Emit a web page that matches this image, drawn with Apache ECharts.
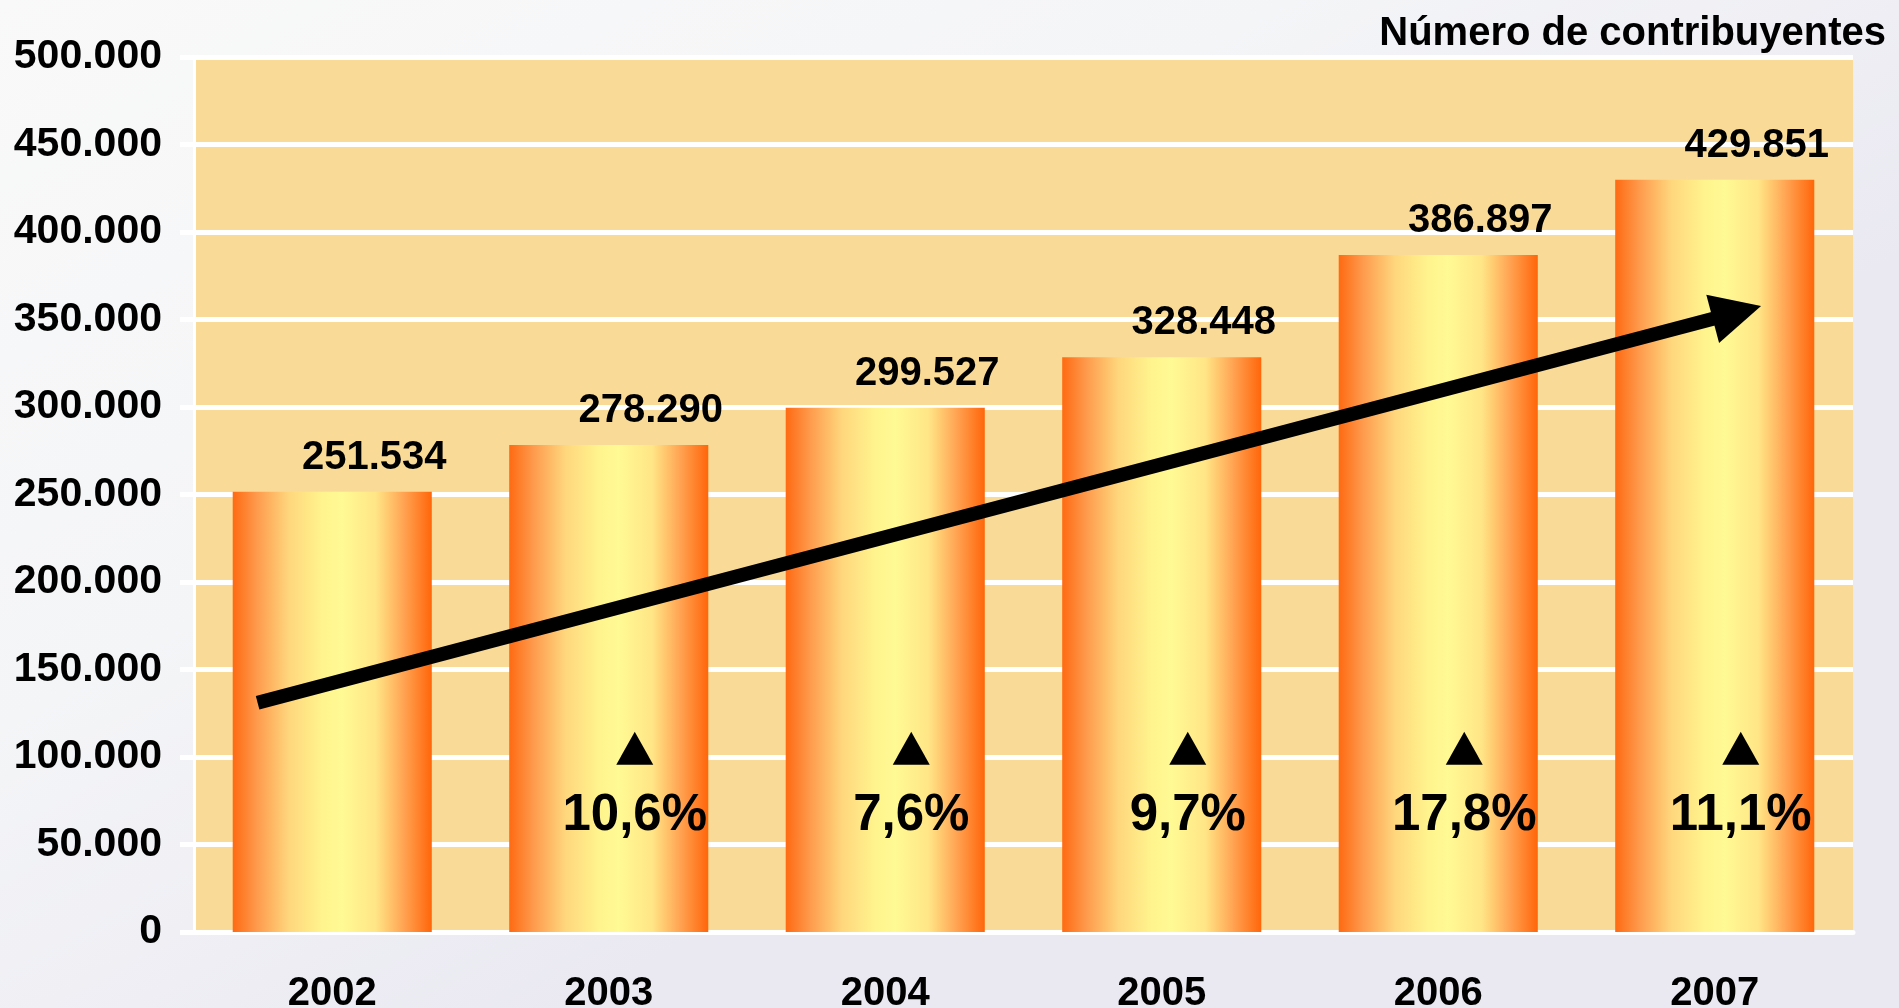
<!DOCTYPE html>
<html>
<head>
<meta charset="utf-8">
<script src="https://cdn.jsdelivr.net/npm/echarts@6/dist/echarts.min.js"></script>
<style>
  html, body { margin: 0; padding: 0; }
  #chart { width: 1899px; height: 1008px; }
</style>
</head>
<body>
<div id="chart"></div>
<script>
// data
const years = ['2002', '2003', '2004', '2005', '2006', '2007'];
const contribuyentes = [251534, 278290, 299527, 328448, 386897, 429851];
const growthPct = [null, 10.6, 7.6, 9.7, 17.8, 11.1];
const yMin = 0, yMax = 500000, yStep = 50000;
// trend arrow (annotation), in axis units: x as category index, y as value
const trendX = [-0.27, 5.08];
const trendY = [131000, 354000];
const growthMarkLevel = 105000;

const FONT = '"Liberation Sans", Arial, sans-serif';
const fmtThousands = (v) => String(v).replace(/\B(?=(\d{3})+(?!\d))/g, '.');
const fmtPct = (v) => v.toFixed(1).replace('.', ',') + '%';

const barGradient = {
  type: 'linear', x: 0, y: 0, x2: 1, y2: 0,
  colorStops: [
    { offset: 0, color: '#FF6A12' },
    { offset: 0.12, color: '#FF9A4C' },
    { offset: 0.28, color: '#FFD67C' },
    { offset: 0.45, color: '#FFF48E' },
    { offset: 0.55, color: '#FFFA94' },
    { offset: 0.72, color: '#FFE586' },
    { offset: 0.86, color: '#FFA352' },
    { offset: 1, color: '#FF660A' }
  ]
};

const chart = echarts.init(document.getElementById('chart'));

chart.setOption({
  animation: false,
  backgroundColor: {
    type: 'linear', x: 0, y: 0, x2: 0.3, y2: 1,
    colorStops: [
      { offset: 0, color: '#F9F9F9' },
      { offset: 0.55, color: '#F4F5F7' },
      { offset: 1, color: '#EAE9F2' }
    ]
  },
  textStyle: { fontFamily: FONT },
  title: {
    text: 'Número de contribuyentes',
    right: 8,
    top: 9,
    textStyle: { fontFamily: FONT, fontSize: 40, fontWeight: 'bold', color: '#000' }
  },
  grid: {
    left: 194, right: 46, top: 57, bottom: 76,
    outerBoundsMode: 'none',
    containLabel: false,
    show: true, backgroundColor: '#F9DB97', borderWidth: 0
  },
  xAxis: [
    {
      type: 'category',
      data: years,
      axisLine: { lineStyle: { color: '#FFFFFF', width: 5 } },
      axisTick: { show: false },
      axisLabel: { color: '#000', fontFamily: FONT, fontSize: 40, fontWeight: 'bold', margin: 42 }
    },
    { type: 'value', min: -0.5, max: 5.5, show: false }
  ],
  yAxis: {
    type: 'value',
    min: yMin, max: yMax, interval: yStep,
    axisLine: { show: true, onZero: false, lineStyle: { color: '#FFFFFF', width: 3 } },
    axisTick: { show: true, length: 14, lineStyle: { color: '#FFFFFF', width: 5 } },
    splitLine: { lineStyle: { color: '#FFFFFF', width: 5 } },
    axisLabel: {
      color: '#000', fontFamily: FONT, fontSize: 41, fontWeight: 'bold', margin: 32,
      formatter: (v) => fmtThousands(v)
    }
  },
  series: [
    {
      type: 'bar',
      data: contribuyentes,
      barWidth: '72%',
      itemStyle: { color: barGradient },
      label: {
        show: true,
        position: 'top',
        distance: 14,
        offset: [42, 0],
        color: '#000', fontFamily: FONT, fontSize: 40, fontWeight: 'bold',
        formatter: (p) => fmtThousands(p.value)
      },
      z: 2
    },
    {
      type: 'scatter',
      data: growthPct.map((g, i) => (g == null ? null : [years[i], growthMarkLevel, g])),
      symbol: 'triangle',
      symbolSize: [37, 33],
      symbolOffset: [26, 0],
      itemStyle: { color: '#000', opacity: 1 },
      label: {
        show: true,
        position: 'bottom',
        distance: 26,
        color: '#000', fontFamily: FONT, fontSize: 51, fontWeight: 'bold',
        formatter: (p) => fmtPct(p.value[2])
      },
      silent: true,
      z: 4
    },
    {
      type: 'line',
      xAxisIndex: 1,
      data: [],
      markLine: {
        silent: true,
        symbol: ['none', 'triangle'],
        symbolSize: [50, 50],
        lineStyle: { color: '#000', width: 14, type: 'solid', cap: 'butt', opacity: 1 },
        label: { show: false },
        data: [[
          { coord: [trendX[0], trendY[0]] },
          { coord: [trendX[1], trendY[1]] }
        ]]
      },
      z: 5
    }
  ]
});
</script>
</body>
</html>
